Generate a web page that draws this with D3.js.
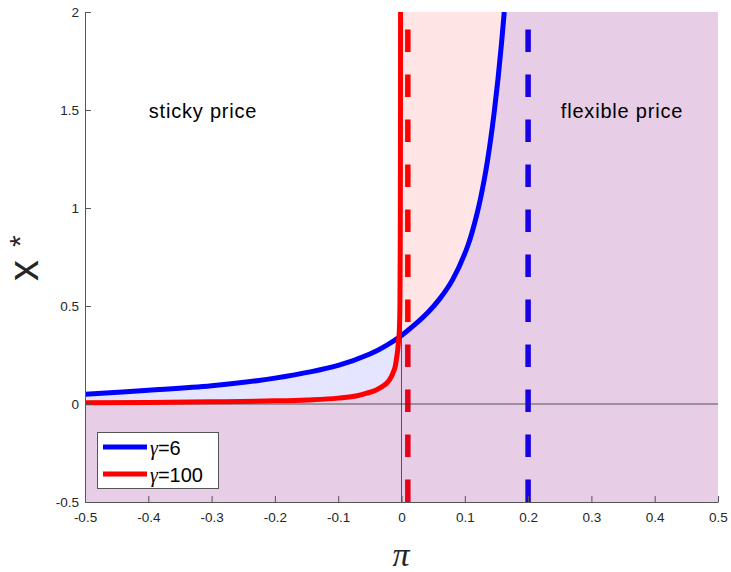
<!DOCTYPE html>
<html>
<head>
<meta charset="utf-8">
<script src="https://cdn.jsdelivr.net/npm/d3@7"></script>
<style>
  body { margin: 0; background: #fff; }
  svg { display: block; font-family: "Liberation Sans", Arial, sans-serif; }
</style>
</head>
<body>
<svg id="chart" width="731" height="572"></svg>
<script>
// gamma = 6 curve
const piBlue = [-0.5, -0.4, -0.3, -0.2, -0.1, -0.05, -0.025, 0, 0.02, 0.042, 0.06, 0.081, 0.105, 0.12, 0.131, 0.1395, 0.1465, 0.1525, 0.1577, 0.1623];
const xBlue  = [0.05, 0.07, 0.093, 0.132, 0.197, 0.255, 0.297, 0.35, 0.402, 0.468, 0.535, 0.636, 0.81, 0.98, 1.15, 1.32, 1.49, 1.66, 1.83, 2.0];

// gamma = 100 curve
const piRed = [-0.5, -0.4, -0.3, -0.2, -0.15, -0.1, -0.07, -0.055, -0.04, -0.03, -0.023, -0.016, -0.012, -0.01, -0.008, -0.006, -0.0045, -0.0035, -0.0025, -0.002, -0.0017, -0.0015];
const xRed  = [0.006, 0.008, 0.011, 0.016, 0.021, 0.03, 0.042, 0.055, 0.072, 0.09, 0.107, 0.14, 0.17, 0.19, 0.23, 0.275, 0.33, 0.37, 0.5, 0.8, 1.2, 2.0];

// cutoffs (dashed lines)
const cutBlue = 0.2;
const cutRed = 0.01;

const xTicks = [-0.5, -0.4, -0.3, -0.2, -0.1, 0, 0.1, 0.2, 0.3, 0.4, 0.5];
const yTicks = [-0.5, 0, 0.5, 1, 1.5, 2];
const legendLabels = ["6", "100"];

const svg = d3.select("#chart");
const mL = 85, mR = 718, mT = 12, mB = 502;

const x = d3.scaleLinear().domain([-0.5, 0.5]).range([mL, mR]);
const y = d3.scaleLinear().domain([-0.5, 2]).range([mB, mT]);

svg.append("defs").append("clipPath").attr("id", "clip")
  .append("rect").attr("x", mL).attr("y", mT)
  .attr("width", mR - mL).attr("height", mB - mT);

const plot = svg.append("g").attr("clip-path", "url(#clip)");

const blue = piBlue.map((p, i) => [p, xBlue[i]]);
const red = piRed.map((p, i) => [p, xRed[i]]);

// dashed cutoff lines (under the shading)
[[cutRed, "#ff0000"], [cutBlue, "#0000ff"]].forEach(([c, col]) => {
  plot.append("line")
    .attr("x1", x(c)).attr("x2", x(c))
    .attr("y1", y(-0.5)).attr("y2", y(2))
    .attr("stroke", col).attr("stroke-width", 5.5)
    .attr("stroke-dasharray", "22.5 22.5");
});

// shaded regions: below each curve
const lineB = d3.line().x(d => x(d[0])).y(d => y(d[1])).curve(d3.curveCatmullRom.alpha(0.5));
const lineR = d3.line().x(d => x(d[0])).y(d => y(d[1])).curve(d3.curveMonotoneX);
function region(path) {
  return path + "L" + x(0.5) + "," + y(2) + "L" + x(0.5) + "," + y(-0.5) +
    "L" + x(-0.5) + "," + y(-0.5) + "Z";
}
plot.append("path").attr("d", region(lineB(blue))).attr("fill", "#0000ff").attr("fill-opacity", 0.1);
plot.append("path").attr("d", region(lineR(red))).attr("fill", "#ff0000").attr("fill-opacity", 0.1);

// zero lines
plot.append("line").attr("x1", x(0)).attr("x2", x(0)).attr("y1", mT).attr("y2", mB)
  .attr("stroke", "#333").attr("stroke-opacity", 0.8).attr("stroke-width", 1);
plot.append("line").attr("x1", mL).attr("x2", mR).attr("y1", y(0)).attr("y2", y(0))
  .attr("stroke", "#333").attr("stroke-opacity", 0.8).attr("stroke-width", 1);

// curves
plot.append("path").attr("d", lineB(blue)).attr("fill", "none")
  .attr("stroke", "#0000ff").attr("stroke-width", 5);
plot.append("path").attr("d", lineR(red)).attr("fill", "none")
  .attr("stroke", "#ff0000").attr("stroke-width", 5);

// axes
const axColor = "#262626";
const gx = svg.append("g").attr("transform", `translate(0,${mB})`)
  .call(d3.axisBottom(x).tickValues(xTicks).tickSizeInner(-6).tickSizeOuter(0).tickPadding(10)
    .tickFormat(d => String(d)));
const gy = svg.append("g").attr("transform", `translate(${mL},0)`)
  .call(d3.axisLeft(y).tickValues(yTicks).tickSizeInner(-6).tickSizeOuter(0).tickPadding(6)
    .tickFormat(d => String(d)));
[gx, gy].forEach(g => {
  g.select(".domain").attr("stroke", "#555");
  g.selectAll(".tick line").attr("stroke", "#555");
  g.selectAll(".tick text").attr("fill", axColor).attr("font-size", 13.5)
    .attr("font-family", "Liberation Sans, Arial, sans-serif");
});

// region labels
svg.append("text").attr("x", 203).attr("y", 118).attr("text-anchor", "middle")
  .attr("font-size", 20).attr("letter-spacing", 0.8).attr("fill", "#000").text("sticky price");
svg.append("text").attr("x", 622).attr("y", 118).attr("text-anchor", "middle")
  .attr("font-size", 20).attr("letter-spacing", 0.8).attr("fill", "#000").text("flexible price");

// axis titles
svg.append("text").attr("x", 401).attr("y", 566).attr("text-anchor", "middle")
  .attr("font-family", "Liberation Serif, Times New Roman, serif").attr("font-style", "italic")
  .attr("font-size", 34).attr("fill", "#262626").text("π");

const yl = svg.append("text").attr("transform", "translate(38,281) rotate(-90)")
  .attr("text-anchor", "start").attr("font-size", 42).attr("fill", "#262626");
yl.append("tspan").text("x");
yl.append("tspan").attr("font-size", 30).attr("dx", 13).attr("dy", -8).text("*");

// legend
const lg = svg.append("g");
lg.append("rect").attr("x", 97.5).attr("y", 432.5).attr("width", 121).attr("height", 56)
  .attr("fill", "#fff").attr("stroke", "#555").attr("stroke-width", 1);
[["#0000ff", 447], ["#ff0000", 474]].forEach(([col, ly], i) => {
  lg.append("line").attr("x1", 103).attr("x2", 147).attr("y1", ly).attr("y2", ly)
    .attr("stroke", col).attr("stroke-width", 5);
  const t = lg.append("text").attr("x", 150).attr("y", ly + 8).attr("font-size", 20).attr("fill", "#000");
  t.append("tspan").attr("font-family", "Liberation Serif, Times New Roman, serif")
    .attr("font-style", "italic").text("γ");
  t.append("tspan").text("=" + legendLabels[i]);
});
</script>
</body>
</html>
